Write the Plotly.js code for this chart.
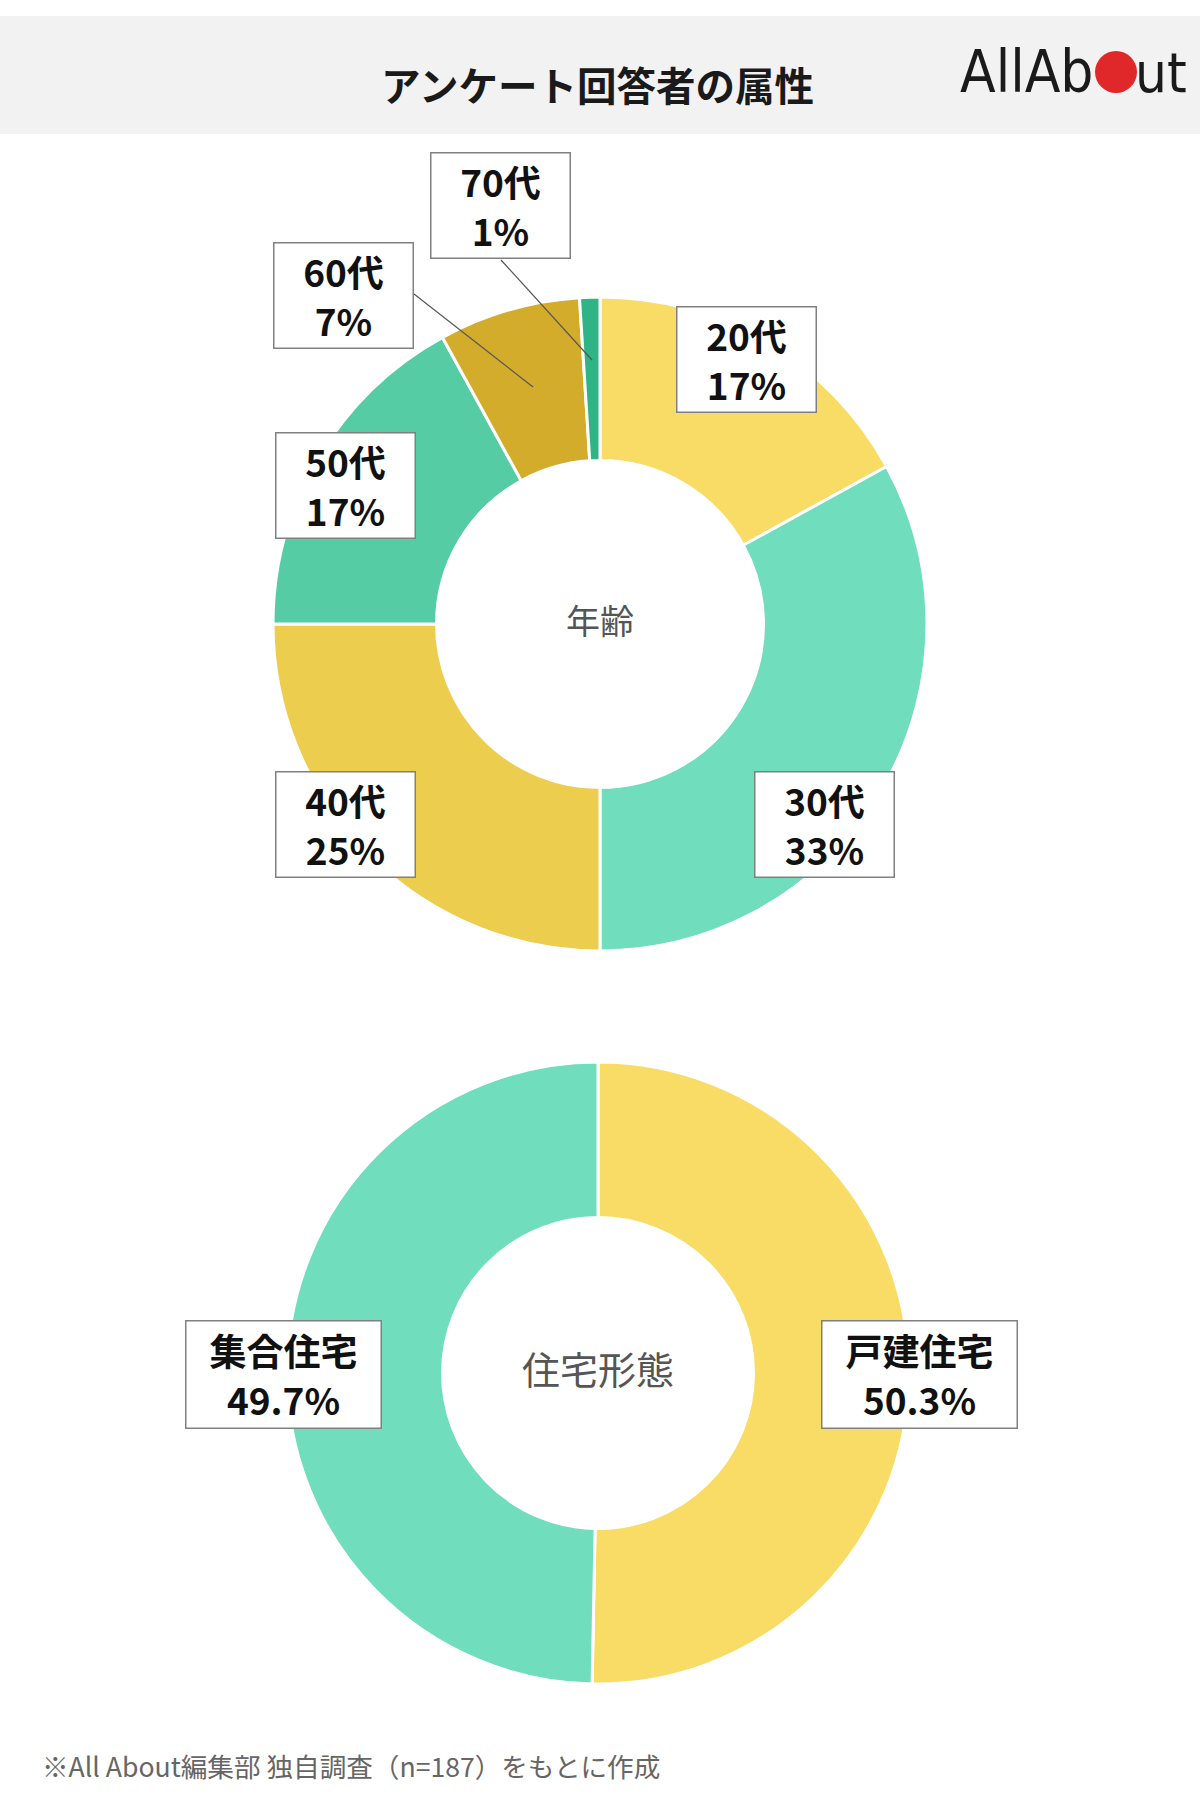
<!DOCTYPE html>
<html>
<head>
<meta charset="utf-8">
<script src="https://cdn.plot.ly/plotly-3.0.1.min.js"></script>
<style>
html,body{margin:0;padding:0;background:#fff;}
#chart{width:1200px;height:1805px;}
</style>
</head>
<body>
<div id="chart"></div>
<script>
// ---- data ----
const ageCategories = ['20代', '30代', '40代', '50代', '60代', '70代'];
const ageValues = [17, 33, 25, 17, 7, 1];
const ageColors = ['#F9DC66', '#70DDBD', '#ECCD4E', '#56CCA4', '#D3AC2C', '#2FB486'];

const housingCategories = ['戸建住宅', '集合住宅'];
const housingValues = [50.3, 49.7];
const housingColors = ['#F9DC66', '#70DDBD'];

const chartTitle = 'アンケート回答者の属性';
const ageTitle = '年齢';
const housingTitle = '住宅形態';
const footnote = '※All About編集部 独自調査（n=187）をもとに作成';

// ---- layout helpers (pixel -> paper) ----
const W = 1200, H = 1805;
const px = x => x / W;
const py = y => (H - y) / H;

// label box centres (layout only)
const agePos = [[746, 359], [824, 825], [345, 825], [345, 485], [343, 295], [500, 205]];
const housingPos = [[919, 1374], [283, 1374]];

const FONT = '"Noto Sans CJK JP", "Noto Sans", sans-serif';
const LOGOFONT = '"DejaVu Sans Condensed", "Liberation Sans Narrow", "Liberation Sans", sans-serif';

const traces = [
  {
    type: 'pie',
    labels: ageCategories,
    values: ageValues,
    sort: false,
    direction: 'clockwise',
    rotation: 0,
    hole: 0.5,
    textinfo: 'none',
    hoverinfo: 'skip',
    marker: {colors: ageColors, line: {color: '#ffffff', width: 3}},
    domain: {x: [px(600 - 327), px(600 + 327)], y: [py(624 + 327), py(624 - 327)]},
    title: {text: ageTitle, position: 'middle center', font: {size: 34, color: '#555555', family: FONT}},
    showlegend: false
  },
  {
    type: 'pie',
    labels: housingCategories,
    values: housingValues,
    sort: false,
    direction: 'clockwise',
    rotation: 0,
    hole: 0.5,
    textinfo: 'none',
    hoverinfo: 'skip',
    marker: {colors: housingColors, line: {color: '#ffffff', width: 3}},
    domain: {x: [px(598 - 311), px(598 + 311)], y: [py(1373 + 311), py(1373 - 311)]},
    title: {text: housingTitle, position: 'middle center', font: {size: 38, color: '#555555', family: FONT}},
    showlegend: false
  }
];

function fmtPct(v) {
  return (Number.isInteger(v) ? String(v) : v.toFixed(1)) + '%';
}

const annotations = [];
ageCategories.forEach((c, i) => {
  annotations.push({
    xref: 'paper', yref: 'paper',
    x: px(agePos[i][0]), y: py(agePos[i][1]),
    xanchor: 'center', yanchor: 'middle',
    text: c + '<br>' + fmtPct(ageValues[i]),
    showarrow: false,
    font: {size: 37, color: '#111111', family: FONT, weight: 'bold'},
    bgcolor: '#ffffff', bordercolor: '#808080', borderwidth: 1.5, borderpad: 0,
    width: 138, height: 104, align: 'center'
  });
});
housingCategories.forEach((c, i) => {
  annotations.push({
    xref: 'paper', yref: 'paper',
    x: px(housingPos[i][0]), y: py(housingPos[i][1]),
    xanchor: 'center', yanchor: 'middle',
    text: c + '<br>' + fmtPct(housingValues[i]),
    showarrow: false,
    font: {size: 37, color: '#111111', family: FONT, weight: 'bold'},
    bgcolor: '#ffffff', bordercolor: '#808080', borderwidth: 1.5, borderpad: 0,
    width: 194, height: 106, align: 'center'
  });
});

// title
annotations.push({
  xref: 'paper', yref: 'paper', x: px(597), y: py(83),
  xanchor: 'center', yanchor: 'middle', showarrow: false,
  text: chartTitle,
  font: {size: 39.5, color: '#1a1a1a', family: FONT, weight: 'bold'}
});
// logo
annotations.push({
  xref: 'paper', yref: 'paper', x: px(1096), y: py(72),
  xanchor: 'right', yanchor: 'middle', showarrow: false,
  text: 'AllAb',
  font: {size: 58, color: '#1a1a1a', family: LOGOFONT}
});
annotations.push({
  xref: 'paper', yref: 'paper', x: px(1133), y: py(72),
  xanchor: 'left', yanchor: 'middle', showarrow: false,
  text: 'ut',
  font: {size: 56, color: '#1a1a1a', family: LOGOFONT}
});
// footnote
annotations.push({
  xref: 'paper', yref: 'paper', x: px(40), y: py(1765),
  xanchor: 'left', yanchor: 'middle', showarrow: false,
  text: footnote,
  font: {size: 26.6, color: '#666666', family: FONT}
});

const shapes = [
  {type: 'rect', xref: 'paper', yref: 'paper', x0: 0, x1: 1, y0: py(134), y1: py(16),
   fillcolor: '#F2F2F2', line: {width: 0}, layer: 'below'},
  // logo circle
  {type: 'circle', xref: 'paper', yref: 'paper',
   x0: px(1095), x1: px(1137), y0: py(93), y1: py(51),
   fillcolor: '#E0282A', line: {width: 0}},
  // leader lines
  {type: 'line', xref: 'paper', yref: 'paper', x0: px(414), y0: py(294), x1: px(533), y1: py(387),
   line: {color: '#555555', width: 1.2}},
  {type: 'line', xref: 'paper', yref: 'paper', x0: px(501), y0: py(260), x1: px(592), y1: py(360),
   line: {color: '#555555', width: 1.2}}
];

const layout = {
  width: W, height: H,
  margin: {l: 0, r: 0, t: 0, b: 0},
  paper_bgcolor: '#ffffff',
  plot_bgcolor: '#ffffff',
  font: {family: FONT},
  showlegend: false,
  annotations: annotations,
  shapes: shapes
};

Plotly.newPlot('chart', traces, layout, {displayModeBar: false, staticPlot: true});
</script>
</body>
</html>
